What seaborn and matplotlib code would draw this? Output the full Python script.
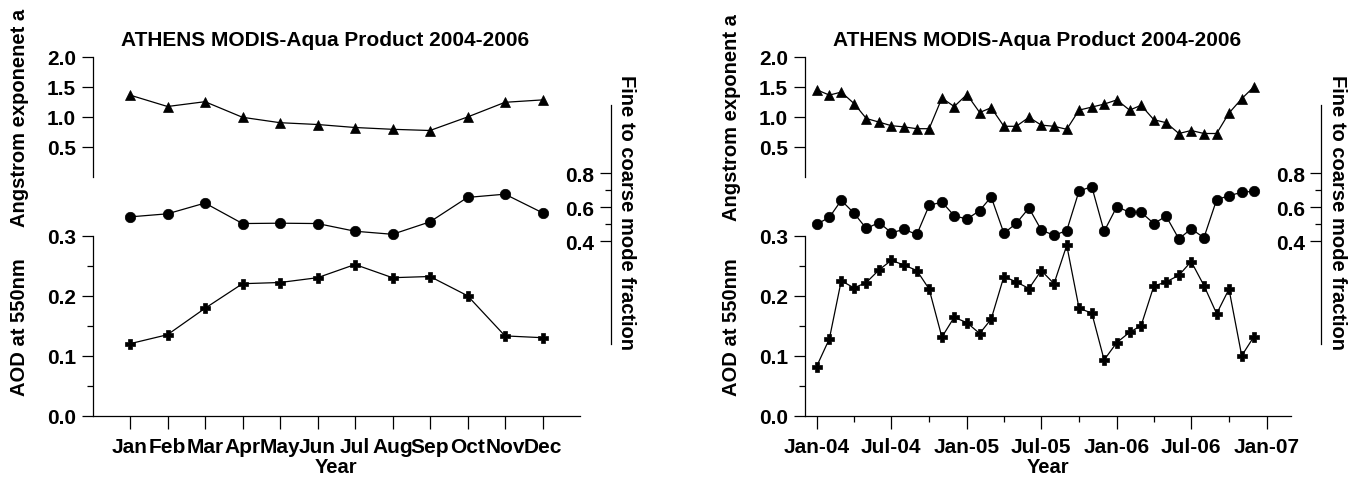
import matplotlib
matplotlib.use("Agg")
import matplotlib.pyplot as plt
import matplotlib.dates as mdates
import numpy as np
import pandas as pd
import seaborn as sns

# --- monthly climatology 2004-2006 ---
months = ["Jan", "Feb", "Mar", "Apr", "May", "Jun",
          "Jul", "Aug", "Sep", "Oct", "Nov", "Dec"]
clim_ang = [1.36, 1.17, 1.25, 0.99, 0.90, 0.87, 0.82, 0.79, 0.77, 0.995, 1.24, 1.28]
clim_fmf = [0.543, 0.561, 0.624, 0.504, 0.506, 0.504, 0.459, 0.441, 0.514, 0.657, 0.676, 0.567]
clim_aod = [0.120, 0.135, 0.179, 0.220, 0.222, 0.230, 0.252, 0.230, 0.232, 0.200, 0.133, 0.130]

# --- monthly time series Jan-04 .. Dec-06 ---
series_start = "2004-01-01"
ts_ang = [1.45, 1.36, 1.41, 1.22, 0.97, 0.91, 0.85, 0.83, 0.80, 0.80, 1.31, 1.17,
          1.37, 1.07, 1.15, 0.84, 0.84, 0.99, 0.86, 0.84, 0.79, 1.11, 1.16, 1.21,
          1.28, 1.11, 1.19, 0.95, 0.90, 0.72, 0.77, 0.72, 0.72, 1.06, 1.30, 1.50]
ts_fmf = [0.500, 0.540, 0.640, 0.565, 0.475, 0.510, 0.450, 0.470, 0.440, 0.610, 0.630, 0.550,
          0.530, 0.580, 0.660, 0.447, 0.505, 0.595, 0.466, 0.435, 0.463, 0.695, 0.720, 0.458,
          0.603, 0.570, 0.570, 0.504, 0.547, 0.414, 0.473, 0.421, 0.644, 0.667, 0.687, 0.693]
ts_aod = [0.082, 0.128, 0.225, 0.213, 0.222, 0.243, 0.259, 0.251, 0.242, 0.211, 0.131, 0.164,
          0.155, 0.137, 0.161, 0.232, 0.223, 0.212, 0.242, 0.220, 0.284, 0.179, 0.171, 0.093,
          0.122, 0.139, 0.150, 0.216, 0.223, 0.234, 0.257, 0.217, 0.170, 0.211, 0.100, 0.132]
dates = pd.date_range(series_start, periods=len(ts_aod), freq="MS")

sns.set_theme(style="ticks", rc={"axes.linewidth": 0.9, "axes.edgecolor": "black",
                                 "xtick.color": "black", "ytick.color": "black",
                                 "text.color": "black", "axes.labelcolor": "black"})
plt.rcParams["font.family"] = ["Liberation Sans", "DejaVu Sans"]
plt.rcParams["font.weight"] = "bold"
plt.rcParams["axes.labelweight"] = "bold"

W, H = 1359, 481
TOP, BOT = 57.7, 416.7          # pixel rows of the plotting area
ANG0, FMF08 = 177.7, 174.0      # pixel rows of angstrom 0 and fmf 0.8
TICK_FS = 15
LABEL_FS = 14.5

fig = plt.figure(figsize=(W / 100, H / 100), dpi=100)


def draw_panel(x0, x1, xs, aod, ang, fmf, ang_label, title):
    ax = fig.add_axes([x0 / W, 1 - BOT / H, (x1 - x0) / W, (BOT - TOP) / H])
    ax_ang = ax.twinx()
    ax_fmf = ax.twinx()

    style = dict(color="black", linewidth=0.9, markersize=7.5,
                 markeredgecolor="black", markeredgewidth=0.5)
    sns.lineplot(x=xs, y=aod, marker="P", ax=ax, **style)
    sns.lineplot(x=xs, y=ang, marker="^", ax=ax_ang, **style)
    sns.lineplot(x=xs, y=fmf, marker="o", ax=ax_fmf, **style)

    # AOD axis (lower left)
    ax.set_ylim(0, (BOT - TOP) / 600)
    ax.set_yticks([0.0, 0.1, 0.2, 0.3])
    ax.set_yticks([0.05, 0.15, 0.25], minor=True)
    ax.yaxis.set_major_formatter(matplotlib.ticker.FormatStrFormatter("%.1f"))
    ax.spines["left"].set_bounds(0, 0.3)
    ax.spines["top"].set_visible(False)
    ax.spines["right"].set_visible(False)
    ax.set_ylabel("")

    # Angstrom axis (upper left)
    ax_ang.yaxis.tick_left()
    ax_ang.set_ylim(-(BOT - ANG0) / 60, (ANG0 - TOP) / 60)
    ax_ang.set_yticks([0.5, 1.0, 1.5, 2.0])
    ax_ang.yaxis.set_major_formatter(matplotlib.ticker.FormatStrFormatter("%.1f"))
    for s in ["top", "bottom", "right"]:
        ax_ang.spines[s].set_visible(False)
    ax_ang.spines["left"].set_visible(True)
    ax_ang.spines["left"].set_bounds(0, 2.0)
    ax_ang.set_ylabel("")

    # fine mode fraction axis (detached right spine, ticks facing the data)
    ax_fmf.yaxis.tick_left()
    ax_fmf.set_ylim(0.8 - (BOT - FMF08) / 170.75, 0.8 + (FMF08 - TOP) / 170.75)
    ax_fmf.set_yticks([0.4, 0.6, 0.8])
    ax_fmf.set_yticks([0.5, 0.7], minor=True)
    ax_fmf.yaxis.set_major_formatter(matplotlib.ticker.FormatStrFormatter("%.1f"))
    for s in ["top", "bottom", "right"]:
        ax_fmf.spines[s].set_visible(False)
    ax_fmf.spines["left"].set_visible(True)
    ax_fmf.spines["left"].set_position(("axes", 1.0626))
    ax_fmf.spines["left"].set_bounds(-0.2, 1.2)
    ax_fmf.set_ylabel("")

    for a in (ax, ax_ang, ax_fmf):
        a.tick_params(axis="y", which="major", length=8, width=0.9, pad=4,
                      labelsize=TICK_FS, direction="out")
        a.tick_params(axis="y", which="minor", length=4, width=0.9, direction="out")
    ax.tick_params(axis="x", which="major", length=9, width=0.9, pad=6,
                   labelsize=TICK_FS, direction="out")
    ax.tick_params(axis="x", which="minor", length=4.5, width=0.9, direction="out")
    ax.set_xlabel("Year", fontsize=LABEL_FS, labelpad=1)

    xc = (x0 + x1) / 2
    fig.text((xc - 11) / W, 1 - 40 / H, title, ha="center", va="center",
             fontsize=LABEL_FS + 0.5, fontweight="bold")
    fig.text((x0 - 73) / W, 1 - 118 / H, ang_label, rotation=90,
             ha="center", va="center", fontsize=LABEL_FS, fontweight="bold")
    fig.text((x0 - 73) / W, 1 - 327.5 / H, "AOD at 550nm", rotation=90,
             ha="center", va="center", fontsize=LABEL_FS, fontweight="bold")
    fig.text((x0 + 1.0626 * (x1 - x0) + 16) / W, 1 - 212.5 / H,
             "Fine to coarse mode fraction", rotation=270,
             ha="center", va="center", fontsize=LABEL_FS, fontweight="bold")
    return ax


title = "ATHENS MODIS-Aqua Product 2004-2006"

# left: monthly climatology
pos = np.arange(1, len(months) + 1)
axl = draw_panel(92.5, 580.0, pos, clim_aod, clim_ang, clim_fmf,
                 "Angstrom exponenet a", title)
axl.set_xlim(0, 13)
axl.set_xticks(pos)
axl.set_xticklabels(months)

# right: time series
axr = draw_panel(804.7, 1291.0, dates, ts_aod, ts_ang, ts_fmf,
                 "Angstrom exponent a", title)
axr.set_xlim(pd.Timestamp("2003-12-03"), pd.Timestamp("2007-03-01"))
axr.xaxis.set_major_locator(mdates.MonthLocator(bymonth=[1, 7]))
axr.xaxis.set_minor_locator(mdates.MonthLocator(bymonth=[4, 10]))
axr.xaxis.set_major_formatter(mdates.DateFormatter("%b-%y"))

fig.savefig("out.png", dpi=100)
